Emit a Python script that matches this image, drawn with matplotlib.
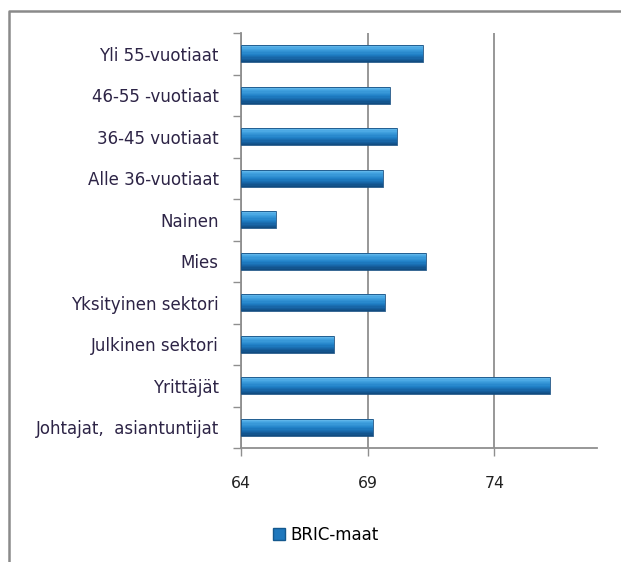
import matplotlib
matplotlib.use("Agg")
import matplotlib.pyplot as plt
from matplotlib.patches import Patch
from matplotlib.lines import Line2D
from matplotlib.colors import to_rgb
import numpy as np

# data, top to bottom as in the chart
categories = ["Yli 55-vuotiaat", "46-55 -vuotiaat", "36-45 vuotiaat", "Alle 36-vuotiaat",
              "Nainen", "Mies", "Yksityinen sektori", "Julkinen sektori",
              "Yrittäjät", "Johtajat,  asiantuntijat"]
values = [71.17, 69.90, 70.15, 69.59, 65.40, 71.30, 69.70, 67.69, 76.19, 69.20]
series_name = "BRIC-maat"
x_ticks = [64, 69, 74]

base = 64
label_color = "#2d2446"
grid_color = "#8f8f8f"

fig = plt.figure(figsize=(6.21, 5.62), dpi=100)
ax = fig.add_axes([241/621, 1 - 448/562, (597 - 241)/621, (448 - 33)/562])

y = np.arange(len(categories))
widths = [v - base for v in values]

# bevelled bar look: stack thin horizontal slices going from light (top) to dark (bottom)
bar_h = 0.42
stops = [(0.0, "#7cc6f2"), (0.2, "#46a6e2"), (0.55, "#1f7fc6"), (0.8, "#16609f"), (1.0, "#10487a")]
n_slices = 14
for k in range(n_slices):
    t = (k + 0.5) / n_slices
    for j in range(len(stops) - 1):
        if stops[j][0] <= t <= stops[j + 1][0]:
            f = (t - stops[j][0]) / (stops[j + 1][0] - stops[j][0])
            c0, c1 = np.array(to_rgb(stops[j][1])), np.array(to_rgb(stops[j + 1][1]))
            col = c0 + (c1 - c0) * f
            break
    offset = -bar_h / 2 + (k + 0.5) * bar_h / n_slices
    ax.barh(y + offset, widths, left=base, height=bar_h / n_slices * 1.05,
            color=col, linewidth=0, zorder=3)
ax.barh(y, widths, left=base, height=bar_h, fill=False, edgecolor="#154f82", linewidth=0.6, zorder=4)

ax.set_xlim(64, 78.05)
ax.set_ylim(len(categories) - 0.5, -0.5)

ax.set_xticks(x_ticks)
ax.set_xticklabels([str(t) for t in x_ticks], fontsize=11.3, color="#222222", family="DejaVu Sans")
ax.set_yticks(y)
ax.set_yticklabels(categories, fontsize=12, color=label_color, family="DejaVu Sans")
ax.set_yticks(np.arange(len(categories) + 1) - 0.5, minor=True)
ax.tick_params(axis="y", which="major", length=0, pad=16)
ax.tick_params(axis="y", which="minor", length=6, width=1, color=grid_color, direction="out")
ax.tick_params(axis="x", length=6, width=1, color=grid_color, direction="out", pad=14)

ax.xaxis.grid(True, color=grid_color, linewidth=1.3, zorder=0)
ax.set_axisbelow(True)
for s in ["top", "right"]:
    ax.spines[s].set_visible(False)
for s in ["left", "bottom"]:
    ax.spines[s].set_color(grid_color)
    ax.spines[s].set_linewidth(1.3)

handle = Patch(facecolor="#1f78bd", edgecolor="#14588e", label=series_name)
fig.legend(handles=[handle], loc="center left", bbox_to_anchor=(258/621, 1 - 535/562),
           frameon=False, handlelength=0.7, handleheight=0.75, handletextpad=0.35,
           prop={"family": "DejaVu Sans", "size": 12})

# outer chart frame (top and left edges visible)
fig.add_artist(Line2D([9/621, 9/621, 1.0], [0.0, 1 - 11/562, 1 - 11/562],
                      transform=fig.transFigure, color="#8a8a8a", linewidth=1.8))

fig.savefig("out.png", dpi=100)
